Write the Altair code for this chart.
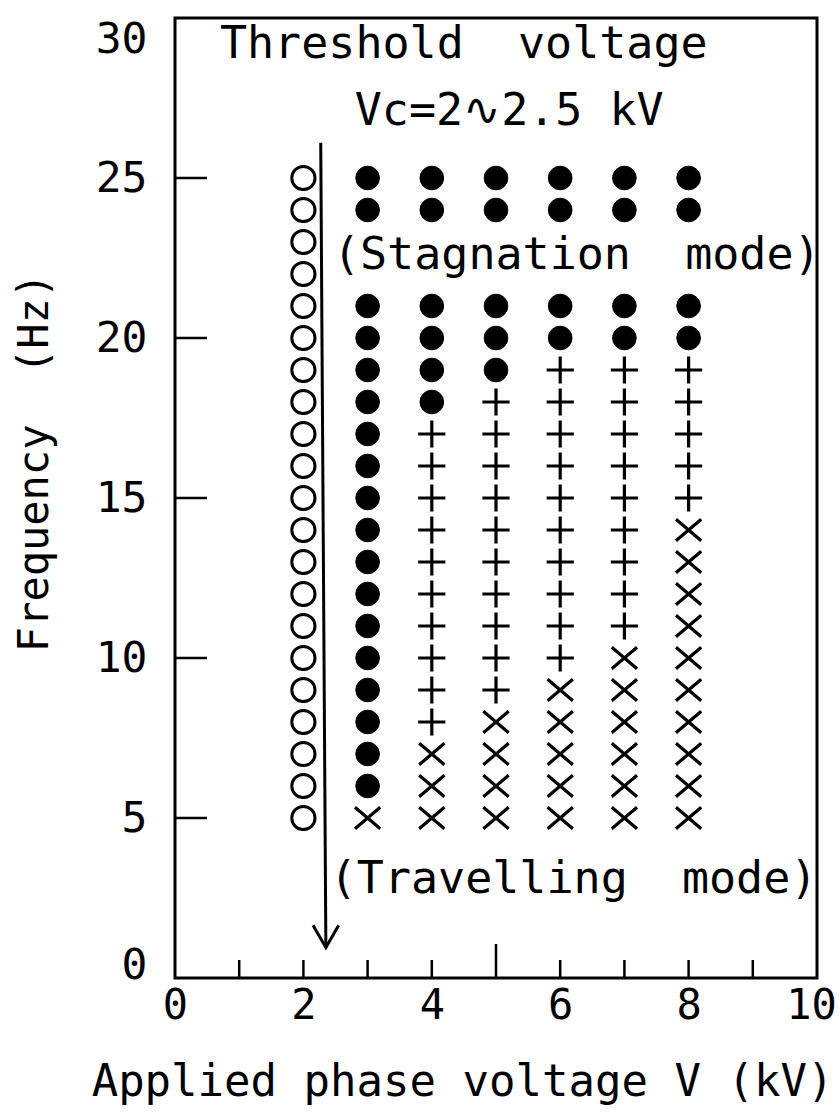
import altair as alt
import pandas as pd

# Frequency rows of the measurement grid (Hz)
freqs = [5, 6, 7, 8, 9, 10, 11, 12, 13, 14, 15, 16, 17, 18, 19, 20, 21, 22, 23, 24, 25]

# Observed flow mode per applied voltage (kV), one character per frequency row:
#   o = no motion, S = stagnation, + = intermediate, x = travelling, . = not measured
modes = {
    2: "ooooooooooooooooooooo",
    3: "xSSSSSSSSSSSSSSSS..SS",
    4: "xxx++++++++++SSSS..SS",
    5: "xxxx++++++++++SSS..SS",
    6: "xxxxx++++++++++SS..SS",
    7: "xxxxxx+++++++++SS..SS",
    8: "xxxxxxxxxx+++++SS..SS",
}

# Axis ticks and labels
x_label_values = [0, 2, 4, 6, 8, 10]
y_label_values = [0, 5, 10, 15, 20, 25, 30]
x_minor_ticks = [1, 2, 3, 4, 6, 7, 8, 9]
x_major_ticks = [5]
y_ticks = [5, 10, 15, 20, 25]

# Threshold arrow (kV, Hz)
arrow_v = [2.27, 2.35]
arrow_f = [26.1, 0.95]
head_v = [2.15, 2.35, 2.55]
head_f = [1.65, 0.95, 1.65]

rows = []
for v, code in modes.items():
    for f, c in zip(freqs, code):
        if c != ".":
            rows.append({"V": v, "f": f, "mode": c})
points = pd.DataFrame(rows)

FONT = "DejaVu Sans Mono"
INK = "black"
SP2 = " \u00a0"  # wide gap that survives SVG whitespace collapsing

xs = alt.Scale(domain=[0, 10], nice=False, zero=False)
ys = alt.Scale(domain=[0, 30], nice=False, zero=False)

x_axis = alt.Axis(
    values=x_label_values, format="d", ticks=False, domain=False, grid=False,
    labelFont=FONT, labelFontSize=42, labelColor=INK, labelPadding=7,
    labelFlush=False,
    labelOffset={"condition": {"test": "datum.value == 10", "value": -6}, "value": 0},
    title="Applied phase voltage V (kV)", titleFont=FONT, titleFontSize=44,
    titleFontWeight="normal", titleColor=INK, titleX=287, titleY=104,
    titleAlign="center", titleBaseline="middle", titleAnchor="middle",
)
y_axis = alt.Axis(
    values=y_label_values, format="d", ticks=False, domain=False, grid=False,
    labelFont=FONT, labelFontSize=43, labelColor=INK, labelPadding=28,
    labelFlush=False,
    labelBaseline={
        "condition": [
            {"test": "datum.value == 30", "value": "top"},
            {"test": "datum.value == 0", "value": "alphabetic"},
        ],
        "value": "middle",
    },
    title="Frequency" + SP2 + "(Hz)", titleFont=FONT, titleFontSize=42,
    titleFontWeight="normal", titleColor=INK, titleAngle=270,
    titleX=-141, titleY=444, titleAlign="center", titleBaseline="middle",
)

base = alt.Chart(points).encode(
    x=alt.X("V:Q", scale=xs, axis=x_axis),
    y=alt.Y("f:Q", scale=ys, axis=y_axis),
)

open_pts = base.transform_filter(alt.datum.mode == "o").mark_point(
    shape="circle", filled=False, stroke=INK, strokeWidth=3, size=540, opacity=1
)
stag_pts = base.transform_filter(alt.datum.mode == "S").mark_point(
    shape="circle", filled=True, fill=INK, stroke=INK, strokeWidth=1, size=560, opacity=1
)
plus_pts = base.transform_filter(alt.datum.mode == "+").mark_point(
    shape="M-1,0H1M0,-1V1", filled=False, stroke=INK, strokeWidth=3.2, size=740, opacity=1
)
cross_pts = base.transform_filter(alt.datum.mode == "x").mark_point(
    shape="M-1,-0.85L1,0.85M-1,0.85L1,-0.85", filled=False, stroke=INK,
    strokeWidth=3.2, size=640, opacity=1
)

# Inward tick marks
y_tick_layer = alt.Chart(pd.DataFrame({"f": y_ticks})).mark_rule(
    color=INK, strokeWidth=2.5
).encode(y=alt.Y("f:Q", scale=ys), x=alt.value(0), x2=alt.value(32))

x_minor_layer = alt.Chart(pd.DataFrame({"V": x_minor_ticks})).mark_rule(
    color=INK, strokeWidth=2.5
).encode(x=alt.X("V:Q", scale=xs), y=alt.value(960), y2=alt.value(942))

x_major_layer = alt.Chart(pd.DataFrame({"V": x_major_ticks})).mark_rule(
    color=INK, strokeWidth=2.5
).encode(x=alt.X("V:Q", scale=xs), y=alt.value(960), y2=alt.value(926))

# Threshold arrow
arrow_df = pd.DataFrame({"V": arrow_v, "f": arrow_f, "k": [0, 1]})
arrow_line = alt.Chart(arrow_df).mark_line(color=INK, strokeWidth=3).encode(
    x=alt.X("V:Q", scale=xs), y=alt.Y("f:Q", scale=ys), order="k:Q"
)
head_df = pd.DataFrame({"V": head_v, "f": head_f, "k": [0, 1, 2]})
arrow_head = alt.Chart(head_df).mark_line(color=INK, strokeWidth=3).encode(
    x=alt.X("V:Q", scale=xs), y=alt.Y("f:Q", scale=ys), order="k:Q"
)


def note(text, v, f):
    return alt.Chart(pd.DataFrame({"t": [text]})).mark_text(
        font=FONT, fontSize=45, color=INK, align="left", baseline="middle"
    ).encode(
        x=alt.datum(v, scale=xs), y=alt.datum(f, scale=ys), text="t:N"
    )


notes = [
    note("Threshold" + SP2 + "voltage", 0.70, 29.2),
    note("Vc=2\u223f2.5 kV", 2.80, 27.1),
    note("(Stagnation" + SP2 + "mode)", 2.46, 22.6),
    note("(Travelling" + SP2 + "mode)", 2.41, 3.1),
]

chart = alt.layer(
    open_pts, stag_pts, plus_pts, cross_pts,
    y_tick_layer, x_minor_layer, x_major_layer,
    arrow_line, arrow_head, *notes,
).properties(
    width=642, height=960,
    padding={"left": 175, "top": 18, "right": 22, "bottom": 137},
    autosize="none",
    background="white",
).configure_view(
    stroke=INK, strokeWidth=3
)

chart.save("out.html", embed_options={"renderer": "svg", "actions": False})
